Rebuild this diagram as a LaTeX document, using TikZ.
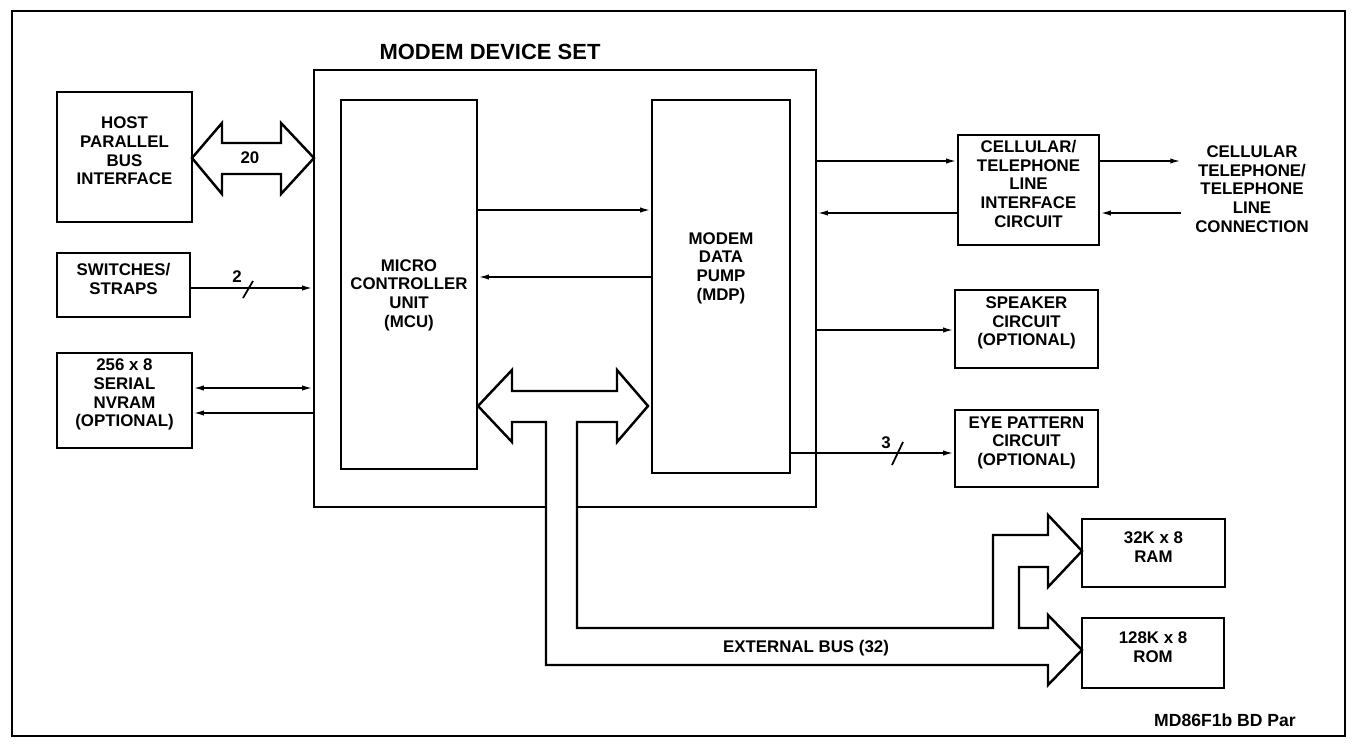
\documentclass[tikz,border=0pt]{standalone}
\usepackage{fontspec}
\setmainfont{Liberation Sans}
\usetikzlibrary{arrows.meta, fit, positioning}

\begin{document}
\begin{tikzpicture}[x=0.02cm, y=-0.02cm,
    font=\fontsize{9.6}{10.6}\selectfont\bfseries,
    box/.style={draw, line width=1.5pt, inner sep=0pt, align=center},
    sig/.style={line width=1pt, -{Latex[length=6pt,width=3pt]}},
    sigboth/.style={line width=1pt, {Latex[length=6pt,width=3pt]}-{Latex[length=6pt,width=3pt]}},
    bus/.style={line width=1.4pt, line join=miter, fill=white}]
        \useasboundingbox (0,0) rectangle (1357,744);

        % Cadre
        \draw[line width=1.3pt] (12,11) rectangle (1345,736);

        % Modem device set
        \node[box, fit={(314,70) (816,507)}] (devset) {};
        \node[font=\fontsize{12.5}{14}\selectfont\bfseries] (title) at (490,52) {MODEM DEVICE SET};

        % Bus hote (20)
        \draw[bus] (192,158) -- (222,123) -- (222,143) -- (281,143) -- (281,123) -- (314,158)
            -- (281,194) -- (281,174) -- (222,174) -- (222,194) -- cycle;
        \node (hostbus) at (250,158) {20};

        % Bus interne et bus externe (32)
        \draw[bus] (478,406) -- (512,370) -- (512,391) -- (617,391) -- (617,370) -- (648,406)
            -- (617,442) -- (617,422) -- (577,422) -- (577,628) -- (993,628) -- (993,535)
            -- (1048,535) -- (1048,515) -- (1082,551) -- (1048,587) -- (1048,567) -- (1019,567)
            -- (1019,628) -- (1048,628) -- (1048,615) -- (1082,650) -- (1048,685) -- (1048,665)
            -- (546,665) -- (546,422) -- (512,422) -- (512,442) -- cycle;
        \node (extbus) at (806,648) {EXTERNAL BUS (32)};

        % MCU et MDP
        \node[box, fit={(341,100) (477,469)}] (mcu) {};
        \node[align=center] (mcutext) at (409,295) {MICRO\\CONTROLLER\\UNIT\\(MCU)};
        \node[box, fit={(652,100) (790,473)}] (mdp) {};
        \node[align=center] (mdptext) at (721,268) {MODEM\\DATA\\PUMP\\(MDP)};
        \draw[sig] (mcu.east |- 0,210) -- (mdp.west |- 0,210);
        \draw[sig] (mdp.west |- 0,277) -- (mcu.east |- 0,277);

        % Blocs de gauche
        \node[box, fit={(57,92) (192,222)}] (host) {HOST\\PARALLEL\\BUS\\INTERFACE};
        \node[box, fit={(57,253) (190,317)}] (switches) {SWITCHES/\\STRAPS};
        \node[box, fit={(57,353) (192,448)}] (nvram) {256 x 8\\SERIAL\\NVRAM\\(OPTIONAL)};
        \draw[sig] (switches.east |- 0,288) -- (devset.west |- 0,288);
        \draw[line width=1pt] (243,298) -- (253,281);
        \node (swcount) at (237,277) {2};
        \draw[sigboth] (nvram.east |- 0,388) -- (devset.west |- 0,388);
        \draw[sig] (devset.west |- 0,413) -- (nvram.east |- 0,413);

        % Blocs de droite
        \node[box, fit={(958,135) (1099,245)}] (cell) {CELLULAR/\\TELEPHONE\\LINE\\INTERFACE\\CIRCUIT};
        \node[align=center, inner xsep=8pt] (conn) at (1252,189) {CELLULAR\\TELEPHONE/\\TELEPHONE\\LINE\\CONNECTION};
        \draw[sig] (devset.east |- 0,161) -- (cell.west |- 0,161);
        \draw[sig] (cell.west |- 0,213) -- (devset.east |- 0,213);
        \draw[sig] (cell.east |- 0,161) -- (conn.west |- 0,161);
        \draw[sig] (conn.west |- 0,213) -- (cell.east |- 0,213);

        \node[box, fit={(955,290) (1098,368)}] (speaker) {SPEAKER\\CIRCUIT\\(OPTIONAL)};
        \draw[sig] (devset.east |- 0,330) -- (speaker.west |- 0,330);

        \node[box, fit={(955,410) (1098,487)}] (eye) {EYE PATTERN\\CIRCUIT\\(OPTIONAL)};
        \draw[sig] (mdp.east |- 0,453) -- (eye.west |- 0,453);
        \draw[line width=1pt] (892,465) -- (903,442);
        \node (eyecount) at (886,443) {3};

        % Memoires
        \node[box, fit={(1082,519) (1225,587)}] (ram) {32K x 8\\RAM};
        \node[box, fit={(1082,618) (1224,688)}] (rom) {128K x 8\\ROM};

        % Reference
        \node[font=\fontsize{10}{11}\selectfont\bfseries] (ref) at (1225,720) {MD86F1b BD Par};
    \end{tikzpicture}
\end{document}
